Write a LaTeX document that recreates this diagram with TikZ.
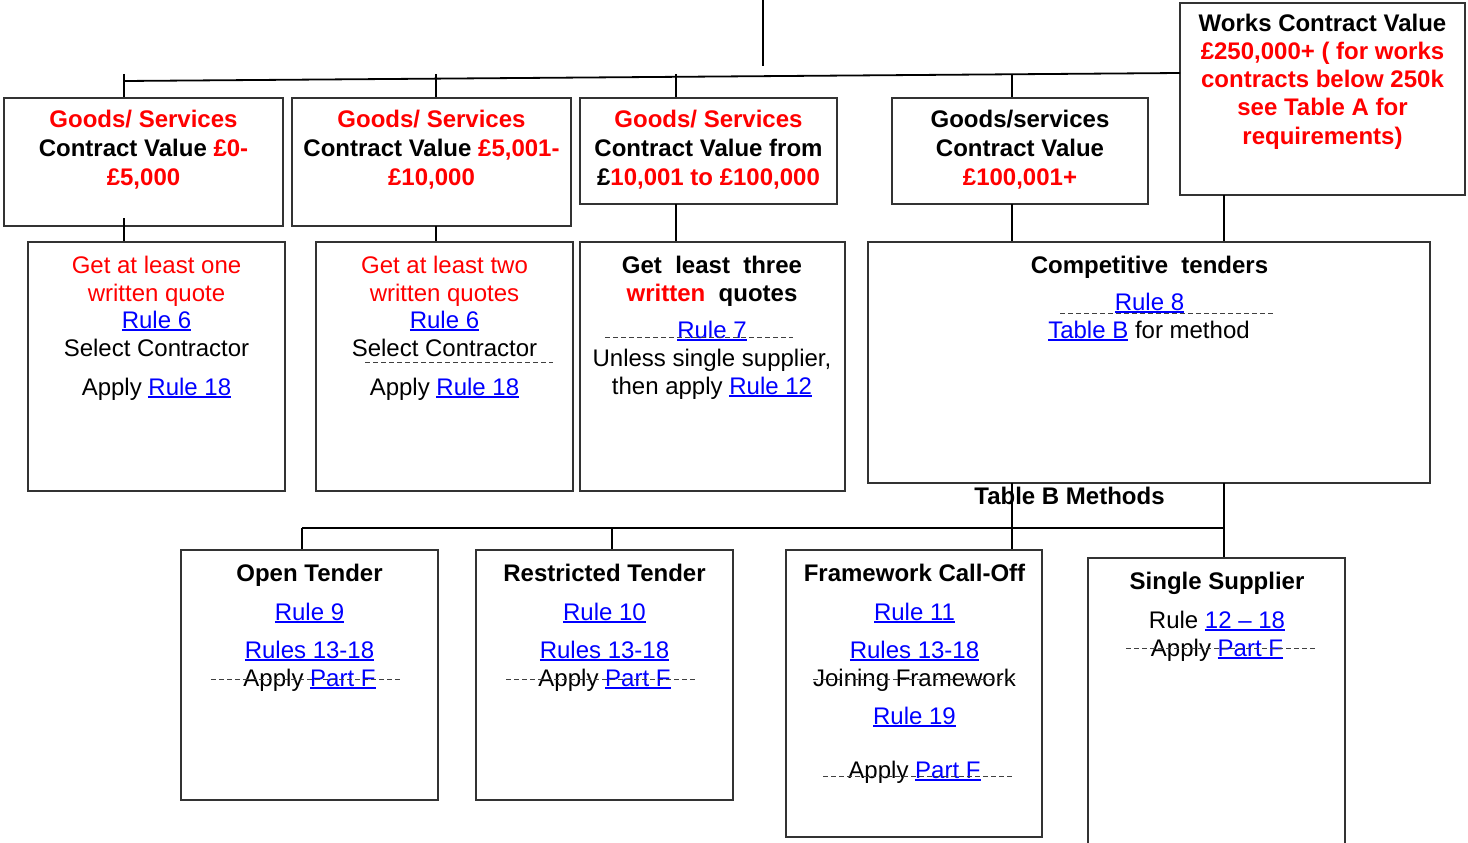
\documentclass[tikz,border=0pt]{standalone}
\usepackage{fontspec}
\setmainfont{Liberation Sans}
\definecolor{rd}{HTML}{FF0000}
\definecolor{bl}{HTML}{0000FF}
\newcommand\lnk[1]{{\color{bl}\setbox0\hbox{#1}\rlap{\rule[-3.2pt]{\wd0}{1.8pt}}\box0}}
\newcommand\rr[1]{{\color{rd}#1}}
\tikzset{
  box/.style={draw=black!80, line width=1.2pt, inner sep=0pt},
  conn/.style={draw=black, line width=1.8pt},
  t/.style={anchor=base, inner sep=0pt, font=\fontsize{24}{28}\selectfont},
  tb/.style={t, font=\fontsize{24}{28}\selectfont\bfseries},
  del/.style={draw=black!75, line width=1pt, dash pattern=on 5pt off 3pt},
}
\begin{document}
\begin{tikzpicture}[x=1pt,y=-1pt]
\clip (0,0) rectangle (1468,843);
\fill[white] (0,0) rectangle (1468,843);
% boxes
\node[box, minimum width=279pt, minimum height=128pt] (b1) at (143.5,162) {};
\node[box, minimum width=279pt, minimum height=128pt] (b2) at (431.5,162) {};
\node[box, minimum width=257pt, minimum height=106pt] (b3) at (708.5,151) {};
\node[box, minimum width=256pt, minimum height=106pt] (b4) at (1020,151) {};
\node[box, minimum width=285pt, minimum height=192pt] (w) at (1322.5,99) {};
\node[box, minimum width=257pt, minimum height=249pt] (c1) at (156.5,366.5) {};
\node[box, minimum width=257pt, minimum height=249pt] (c2) at (444.5,366.5) {};
\node[box, minimum width=265pt, minimum height=249pt] (c3) at (712.5,366.5) {};
\node[box, minimum width=562pt, minimum height=241pt] (c4) at (1149,362.5) {};
\node[box, minimum width=257pt, minimum height=250pt] (d1) at (309.5,675) {};
\node[box, minimum width=257pt, minimum height=250pt] (d2) at (604.5,675) {};
\node[box, minimum width=256pt, minimum height=287pt] (d3) at (914,693.5) {};
\node[box, minimum width=257pt, minimum height=302pt] (d4) at (1216.5,709) {};
% top connectors
\coordinate (top) at (763,0);
\coordinate (topend) at (763,66);
\draw[conn] (top) -- (topend);
\coordinate (busL) at (124,81);
\coordinate (busR) at (1180,73);
\draw[conn] (busL) -- (busR);
\coordinate (k1) at (124,74);
\coordinate (k2) at (436,74);
\coordinate (k3) at (676,74);
\coordinate (k4) at (1012,74);
\draw[conn] (k1) -- (k1 |- b1.north);
\draw[conn] (k2) -- (k2 |- b2.north);
\draw[conn] (k3) -- (k3 |- b3.north);
\draw[conn] (k4) -- (k4 |- b4.north);
\coordinate (m1) at (124,218);
\draw[conn] (m1) -- (m1 |- c1.north);
\coordinate (m2) at (436,226);
\draw[conn] (m2) -- (m2 |- c2.north);
\coordinate (m3) at (676,204);
\draw[conn] (m3) -- (m3 |- c3.north);
\coordinate (m4) at (1012,204);
\draw[conn] (m4) -- (m4 |- c4.north);
\coordinate (m5) at (1224,195);
\draw[conn] (m5) -- (m5 |- c4.north);
% lower connectors
\coordinate (n1) at (1012,483);
\draw[conn] (n1) -- (n1 |- d3.north);
\coordinate (n2) at (1224,483);
\draw[conn] (n2) -- (n2 |- d4.north);
\coordinate (bus2L) at (302,528);
\coordinate (bus2R) at (1224,528);
\draw[conn] (bus2L) -- (bus2R);
\coordinate (p2) at (612,528);
\draw[conn] (bus2L) -- (bus2L |- d1.north);
\draw[conn] (p2) -- (p2 |- d2.north);
% top row texts
\node[tb] (b1a) at (143.5,128) {\rr{Goods/ Services}};
\node[tb] (b1b) at (143.5,156) {Contract Value \rr{£0-}};
\node[tb] (b1c) at (143.5,185) {\rr{£5,000}};
\node[tb] (b2a) at (431.5,128) {\rr{Goods/ Services}};
\node[tb] (b2b) at (431.5,156) {Contract Value \rr{£5,001-}};
\node[tb] (b2c) at (431.5,185) {\rr{£10,000}};
\node[tb] (b3a) at (708.5,128) {\rr{Goods/ Services}};
\node[tb] (b3b) at (708.5,156) {Contract Value from};
\node[tb] (b3c) at (708.5,185) {£\rr{10,001 to £100,000}};
\node[tb] (b4a) at (1020,128) {Goods/services};
\node[tb] (b4b) at (1020,156) {Contract Value};
\node[tb] (b4c) at (1020,185) {\rr{£100,001+}};
\node[tb] (wa) at (1322.5,32) {Works Contract Value};
\node[tb] (wb) at (1322.5,60) {\rr{£250,000+ ( for works}};
\node[tb] (wc) at (1322.5,88) {\rr{contracts below 250k}};
\node[tb] (wd) at (1322.5,115) {\rr{see Table A for}};
\node[tb] (we) at (1322.5,144) {\rr{requirements)}};
% second row texts
\node[t] (c1a) at (156.5,273) {\rr{Get at least one}};
\node[t] (c1b) at (156.5,301) {\rr{written quote}};
\node[t] (c1c) at (156.5,328) {\lnk{Rule 6}};
\node[t] (c1d) at (156.5,356) {Select Contractor};
\node[t] (c1e) at (156.5,395) {Apply \lnk{Rule 18}};
\node[t] (c2a) at (444.5,273) {\rr{Get at least two}};
\node[t] (c2b) at (444.5,301) {\rr{written quotes}};
\node[t] (c2c) at (444.5,328) {\lnk{Rule 6}};
\node[t] (c2d) at (444.5,356) {Select Contractor};
\node[t] (c2e) at (444.5,395) {Apply \lnk{Rule 18}};
\draw[del] (365,362) -- (553,362);
\node[tb] (c3a) at (712,273) {Get\ \ least\ \ three};
\node[tb] (c3b) at (712,301) {\rr{written}\ \ quotes};
\node[t] (c3c) at (712,338) {\lnk{Rule 7}};
\draw[del] (605,337) -- (793,337);
\node[t] (c3d) at (712,366) {Unless single supplier,};
\node[t] (c3e) at (712,394) {then apply \lnk{Rule 12}};
\node[tb] (c4a) at (1149.5,273) {Competitive\ \ tenders};
\node[t] (c4b) at (1149.5,310) {\lnk{Rule 8}};
\draw[del] (1060,313) -- (1275,313);
\node[t] (c4c) at (1149,338) {\lnk{Table B} for method};
\node[tb] (tbm) at (1069.5,504) {Table B Methods};
% bottom row texts
\node[tb] (d1a) at (309.5,581) {Open Tender};
\node[t] (d1b) at (309.5,620) {\lnk{Rule 9}};
\node[t] (d1c) at (309.5,658) {\lnk{Rules 13-18}};
\node[t] (d1d) at (309.5,686) {Apply \lnk{Part F}};
\draw[del] (211,679) -- (400,679);
\node[tb] (d2a) at (604.5,581) {Restricted Tender};
\node[t] (d2b) at (604.5,620) {\lnk{Rule 10}};
\node[t] (d2c) at (604.5,658) {\lnk{Rules 13-18}};
\node[t] (d2d) at (604.5,686) {Apply \lnk{Part F}};
\draw[del] (506,679) -- (695,679);
\node[tb] (d3a) at (914.5,581) {Framework Call-Off};
\node[t] (d3b) at (914.5,620) {\lnk{Rule 11}};
\node[t] (d3c) at (914.5,658) {\lnk{Rules 13-18}};
\node[t] (d3d) at (914.5,686) {Joining Framework};
\draw[del] (813,679) -- (1015,679);
\node[t] (d3e) at (914.5,724) {\lnk{Rule 19}};
\node[t] (d3f) at (914.5,778) {Apply \lnk{Part F}};
\draw[del] (823,776) -- (1013,776);
\node[tb] (d4a) at (1217,589) {Single Supplier};
\node[t] (d4b) at (1217,628) {Rule \lnk{12 – 18}};
\node[t] (d4c) at (1217,656) {Apply \lnk{Part F}};
\draw[del] (1126,648) -- (1315,648);
\end{tikzpicture}
\end{document}
